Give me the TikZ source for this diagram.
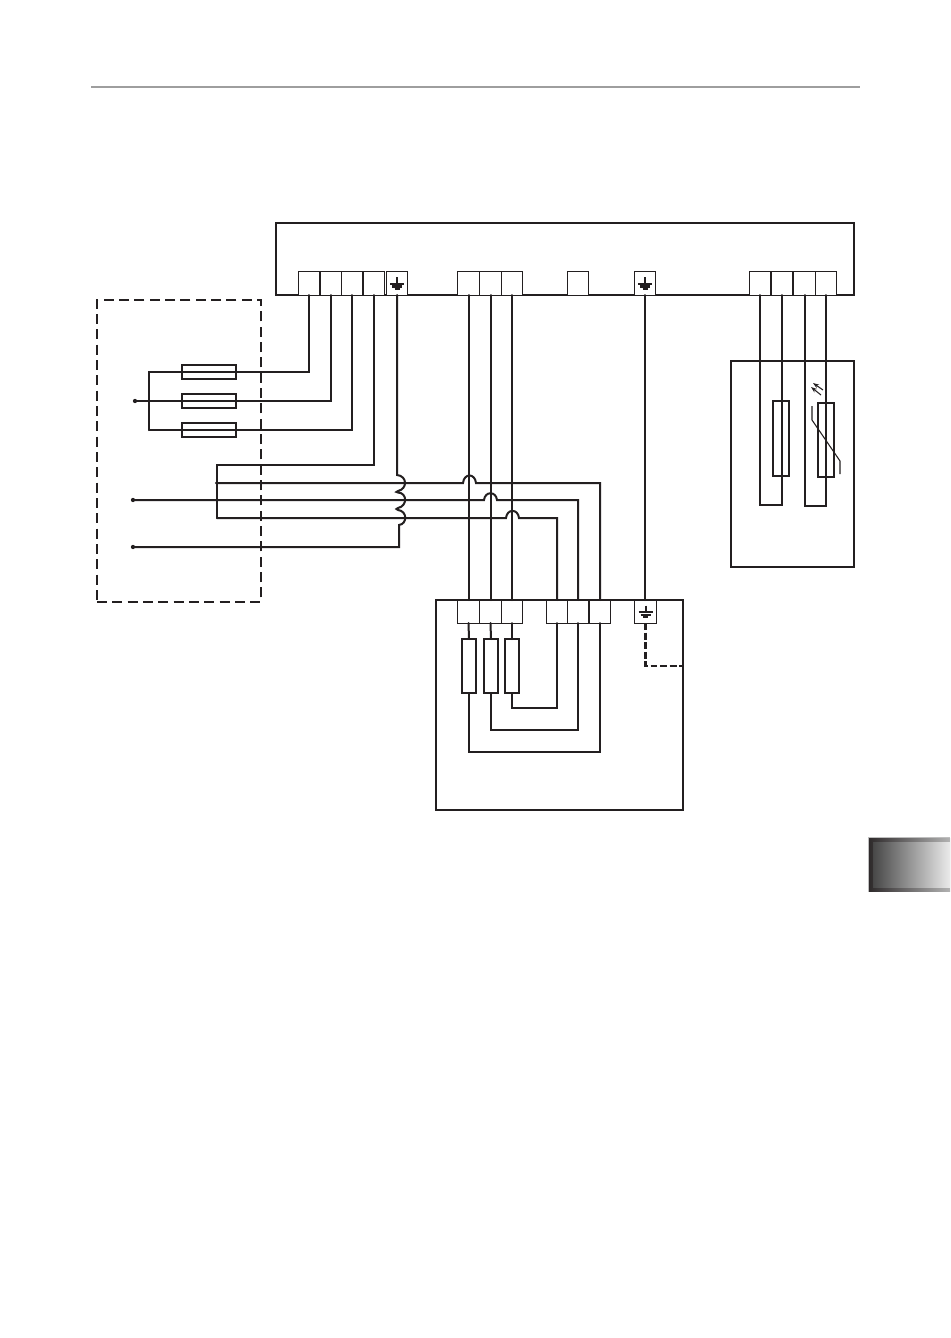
\documentclass[tikz,border=0pt]{standalone}
\usetikzlibrary{calc,arrows.meta}
\definecolor{ink}{HTML}{231F20}
\tikzset{
  x=0.75pt,y=-0.75pt,
  wire/.style={draw=ink,line width=1.5pt,line cap=round,line join=miter},
  thinline/.style={draw=ink,line width=0.8pt},
  boxline/.style={draw=ink,line width=1.5pt},
  dashline/.style={draw=ink,line width=1.4pt,dash pattern=on 7.5pt off 4pt},
  term/.style={draw=ink,fill=white,line width=0.75pt,rectangle,inner sep=0pt,outer sep=0pt,minimum width=16.4pt,minimum height=18pt},
  termb/.style={term,minimum height=17.25pt},
  fuse/.style={draw=ink,line width=1.4pt,rectangle,inner sep=0pt,outer sep=0pt,minimum width=40.5pt,minimum height=10.5pt},
  resv/.style={draw=ink,fill=white,line width=1.5pt,rectangle,inner sep=0pt,outer sep=0pt,minimum width=10.5pt,minimum height=40.5pt},
  ressens/.style={draw=ink,line width=1.4pt,rectangle,inner sep=0pt,outer sep=0pt,minimum width=12pt,minimum height=56pt},
  dot/.style={circle,fill=ink,draw=none,inner sep=0pt,outer sep=0pt,minimum size=3.2pt},
  smalldot/.style={circle,fill=ink,draw=none,inner sep=0pt,outer sep=0pt,minimum size=2.6pt}
}
\newcommand{\earthmark}[1]{%
  \draw[ink,line width=1.5pt] ($(#1)+(0,-6)$) -- ($(#1)+(0,1)$);
  \draw[ink,line width=1.5pt] ($(#1)+(-7,0.5)$) -- ($(#1)+(7,0.5)$);
  \draw[ink,line width=2pt] ($(#1)+(-5,3.6)$) -- ($(#1)+(5,3.6)$);
  \draw[ink,line width=1.5pt] ($(#1)+(-2.5,5.8)$) -- ($(#1)+(2.5,5.8)$);
}
\begin{document}
\begin{tikzpicture}
\useasboundingbox (0,0) rectangle (950,1338);
\fill[white] (0,0) rectangle (950,1338);
% page furniture
\draw[draw=black!38,line width=1.4pt] (91,87) -- (860,87);
\fill[black!25] (868,837) rectangle (950,892);
\shade[left color=ink!95,right color=black!30,shading angle=90,draw=none] (869,838) rectangle (950,891.5);
\shade[left color=black!72,right color=black!8,draw=none] (873,842) rectangle (950,887);

% enclosures
\node[boxline,rectangle,inner sep=0pt,outer sep=0pt,minimum width=433.5pt,minimum height=54pt] (main) at (565,259) {};
\node[dashline,rectangle,inner sep=0pt,outer sep=0pt,minimum width=123pt,minimum height=226.5pt] (supply) at (179,451) {};
\node[boxline,rectangle,inner sep=0pt,outer sep=0pt,minimum width=92.25pt,minimum height=154.5pt] (sensor) at (792.5,464) {};
\node[boxline,rectangle,inner sep=0pt,outer sep=0pt,minimum width=185.25pt,minimum height=157.5pt] (motor) at (559.5,705) {};

% supply side
\coordinate (busTop) at (149,372);
\coordinate (busBot) at (149,430);
\node[dot] (inA) at (135,401) {};
\node[smalldot] (busMid) at (149,401) {};
\node[dot] (inB) at (133,500) {};
\node[dot] (inC) at (133,547) {};
\coordinate (brTop) at (217,465);
\node[smalldot] (br1) at (216.5,483) {};
\node[smalldot] (br2) at (217,500) {};
\coordinate (brBot) at (217,518);

% fuses
\node[fuse] (f1) at (209,372) {};
\node[fuse] (f2) at (209,401) {};
\node[fuse] (f3) at (209,430) {};

% main terminal strip
\node[term] (a1) at (309,283) {};
\node[term] (a2) at (331,283) {};
\node[term] (a3) at (352,283) {};
\node[term] (a4) at (374,283) {};
\node[term] (a5) at (397,283) {};
\node[term] (b1) at (468.5,283) {};
\node[term] (b2) at (490.5,283) {};
\node[term] (b3) at (512,283) {};
\node[term] (c1) at (578,283) {};
\node[term] (c2) at (645,283) {};
\node[term] (d1) at (760,283) {};
\node[term] (d2) at (782,283) {};
\node[term] (d3) at (804.5,283) {};
\node[term] (d4) at (826,283) {};
\earthmark{a5}
\earthmark{c2}

% motor terminals and windings
\node[resv] (r1) at (469,666) {};
\node[resv] (r2) at (491,666) {};
\node[resv] (r3) at (512,666) {};
\node[termb] (m1) at (468.5,611.5) {};
\node[termb] (m2) at (490.5,611.5) {};
\node[termb] (m3) at (512,611.5) {};
\node[termb] (m4) at (557,611.5) {};
\node[termb] (m5) at (578,611.5) {};
\node[termb] (m6) at (600,611.5) {};
\node[termb] (m7) at (645.5,611.5) {};
\earthmark{m7}

% supply wiring
\draw[wire] (a1.south) |- (busTop) -- (busBot);
\draw[wire] (a2.south) |- (inA);
\draw[wire] (a3.south) |- (busBot);
\draw[wire] (a4.south) |- (brTop) -- (brBot);

% horizontal feeds with hops
\draw[wire] (br1) -- (463,483) .. controls (464,473) and (475,473) .. (476,483) -| (m6.north);
\draw[wire] (inB) -- (484,500) .. controls (485,491) and (496,491) .. (497,500) -| (m5.north);
\draw[wire] (brBot) -- (506,518) .. controls (507,508.5) and (518,508.5) .. (519,518) -| (m4.north);

% earth wire with hops
\draw[wire] (a5.south) -- (397,475) .. controls (407.5,476) and (407.5,489) .. (398,491)
  .. controls (395.5,491.5) and (396.5,492.5) .. (398,492.5)
  .. controls (407.5,493) and (407.5,506) .. (398,508)
  .. controls (395.5,508.5) and (396.5,509.5) .. (398,510)
  .. controls (407.5,511) and (407.5,524) .. (399,525) -- (399,547) -- (inC);

% straight drops to the motor
\draw[wire] (b1.south) -- (m1.north);
\draw[wire] (b2.south) -- (m2.north);
\draw[wire] (b3.south) -- (m3.north);
\draw[wire] (c2.south) -- (c2.south |- m7.north);

% inside the motor
\draw[wire] (m1.south) -- (r1.north);
\draw[wire] (m2.south) -- (r2.north);
\draw[wire] (m3.south) -- (r3.north);
\draw[wire] (r1.south) |- (469,752) -| (m6.south);
\draw[wire] (r2.south) |- (491,730) -| (m5.south);
\draw[wire] (r3.south) |- (512,708) -| (m4.south);
\coordinate (pe) at (motor.east |- 0,666);
\draw[draw=ink,line width=1.6pt,dash pattern=on 5.2pt off 2pt] (m7.south) |- (pe);

% sensors
\coordinate (loopA) at (782,505);
\coordinate (loopB) at (826,506);
\draw[wire] (d1.south) |- (loopA) -- (d2.south);
\draw[wire] (d3.south) |- (loopB) -- (d4.south);
\node[ressens,minimum height=56.25pt] (s1) at (781,438.5) {};
\node[ressens,minimum height=55.5pt] (s2) at (826,440) {};
\draw[thinline] (812,406) -- (812,420) -- (840,461) -- (840,474);
\draw[thinline,-{Stealth[length=4.5pt,width=3.2pt]}] (823,390) -- (813,383);
\draw[thinline,-{Stealth[length=4.5pt,width=3.2pt]}] (821,395) -- (811,387);
\end{tikzpicture}
\end{document}
